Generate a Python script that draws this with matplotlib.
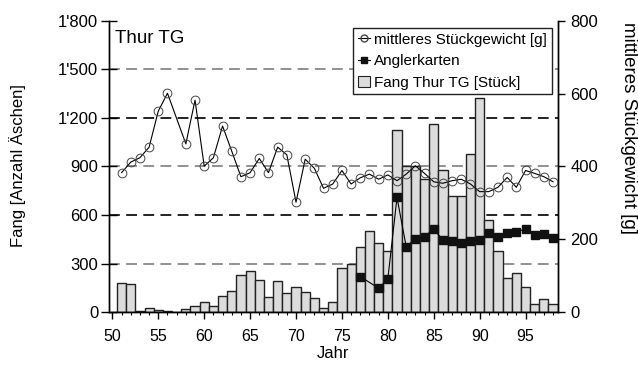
import numpy as np
import matplotlib
matplotlib.use("Agg")
import matplotlib.pyplot as plt
from matplotlib.lines import Line2D
from matplotlib.patches import Patch
from matplotlib.ticker import FuncFormatter, MultipleLocator

plt.rcParams['font.family'] = ['Liberation Sans', 'DejaVu Sans']

# Fang Thur TG [Stück], 1951-1998
fang_jahre = list(range(51, 99))
fang = [180, 175, 8, 25, 15, 10, 3, 20, 40, 65,
        40, 100, 130, 228, 253, 197, 97, 195, 121, 154,
        128, 90, 26, 62, 272, 296, 401, 500, 428, 380,
        1125, 903, 900, 820, 1162, 878, 718, 718, 975, 1321,
        570, 376, 212, 241, 154, 49, 82, 49]

# mittleres Stückgewicht [g] (1957 fehlt)
gewicht_jahre = [51, 52, 53, 54, 55, 56, 58, 59, 60, 61, 62, 63, 64, 65, 66, 67,
                 68, 69, 70, 71, 72, 73, 74, 75, 76, 77, 78, 79, 80, 81, 82, 83,
                 84, 85, 86, 87, 88, 89, 90, 91, 92, 93, 94, 95, 96, 97, 98]
gewicht = [383, 412, 424, 453, 552, 601, 462, 582, 401, 424, 511, 442, 372, 383, 422, 383,
           453, 432, 302, 420, 395, 340, 352, 389, 352, 369, 379, 365, 377, 361, 379, 402,
           381, 358, 354, 361, 365, 352, 331, 331, 343, 370, 343, 389, 381, 372, 358]

# Anglerkarten (1978 fehlt)
karten_jahre = [77, 79, 80, 81, 82, 83, 84, 85, 86, 87, 88, 89, 90, 91, 92, 93, 94, 95, 96, 97, 98]
karten = [98, 66, 91, 315, 180, 201, 207, 229, 198, 196, 191, 196, 198, 217, 207, 217,
          221, 228, 212, 214, 203]

fig = plt.figure(figsize=(6.38, 3.72), dpi=100)
ax = fig.add_axes([0.1704, 0.1605, 0.8741 - 0.1704, 0.9444 - 0.1605])
ax2 = ax.twinx()

# gestrichelte Hilfslinien
for i, y in enumerate(range(300, 1800, 300)):
    col = '#888888' if i % 2 == 0 else '#111111'
    ax.axhline(y, color=col, lw=1.3, ls=(0, (6, 3.5)), zorder=0)

ax.bar(fang_jahre, fang, width=1.0, color='#dcdcdc', edgecolor='#222222',
       linewidth=1.0, zorder=2)

ax2.plot(gewicht_jahre, gewicht, color='black', lw=0.8, marker='o', ms=6.3,
         mfc='none', mec='#444444', mew=0.7, zorder=3)
ax2.plot(karten_jahre, karten, color='black', lw=0.8, marker='s', ms=6,
         mfc='#111111', mec='#111111', zorder=3)

ax.set_xlim(49.6, 98.5)
ax.set_ylim(0, 1800)
ax2.set_ylim(0, 800)
ax.set_zorder(ax2.get_zorder() - 1)
ax.patch.set_visible(True)
ax2.patch.set_visible(False)

ax.set_yticks(range(0, 1801, 300))
ax.yaxis.set_major_formatter(FuncFormatter(lambda v, p: f"{int(v):,}".replace(",", "'")))
ax2.set_yticks(range(0, 801, 200))
ax.xaxis.set_major_locator(MultipleLocator(5))
ax.xaxis.set_minor_locator(MultipleLocator(1))
ax.set_xticks(range(50, 99, 5))

ax.tick_params(axis='y', direction='inout', length=11, width=1, labelsize=12, pad=2)
ax2.tick_params(axis='y', direction='out', length=5, width=1, labelsize=12, pad=4)
ax.tick_params(axis='x', which='major', direction='out', length=5, width=1, labelsize=11.5, pad=7)
ax.tick_params(axis='x', which='minor', direction='out', length=2.5, width=0.8)
ax2.tick_params(axis='x', which='both', length=0)

for a in (ax, ax2):
    a.spines['top'].set_visible(False)
    for s in ('left', 'right', 'bottom'):
        a.spines[s].set_linewidth(1.0)

ax.text(0.014, 0.968, "Thur TG", transform=ax.transAxes, fontsize=13.5,
        ha='left', va='top')

fig.text(17.5 / 638, (372 - 166) / 372, "Fang [Anzahl Äschen]",
         rotation=90, fontsize=12, ha='center', va='center')
fig.text(620 / 638, (372 - 128) / 372, "mittleres Stückgewicht [g]",
         rotation=-90, fontsize=13.5, ha='left', va='center')
fig.text(333 / 638, (372 - 353) / 372, "Jahr", fontsize=12, ha='center', va='center')

handles = [
    Line2D([], [], color='black', lw=0.8, marker='o', ms=5, mfc='none', mec='#444444'),
    Line2D([], [], color='black', lw=0.8, marker='s', ms=5, mfc='#111111', mec='#111111'),
    Patch(facecolor='#dcdcdc', edgecolor='#222222', lw=0.8),
]
labels = ["mittleres Stückgewicht [g]", "Anglerkarten", "Fang Thur TG [Stück]"]
leg = ax2.legend(handles, labels, loc='upper right', bbox_to_anchor=(0.987, 0.975),
                 fontsize=11, frameon=True, fancybox=False, framealpha=1,
                 edgecolor='#222222', handlelength=0.8, handletextpad=0.3,
                 borderpad=0.3, labelspacing=0.5, borderaxespad=0)
leg.get_frame().set_linewidth(1.0)

fig.savefig("out.png", dpi=100)
